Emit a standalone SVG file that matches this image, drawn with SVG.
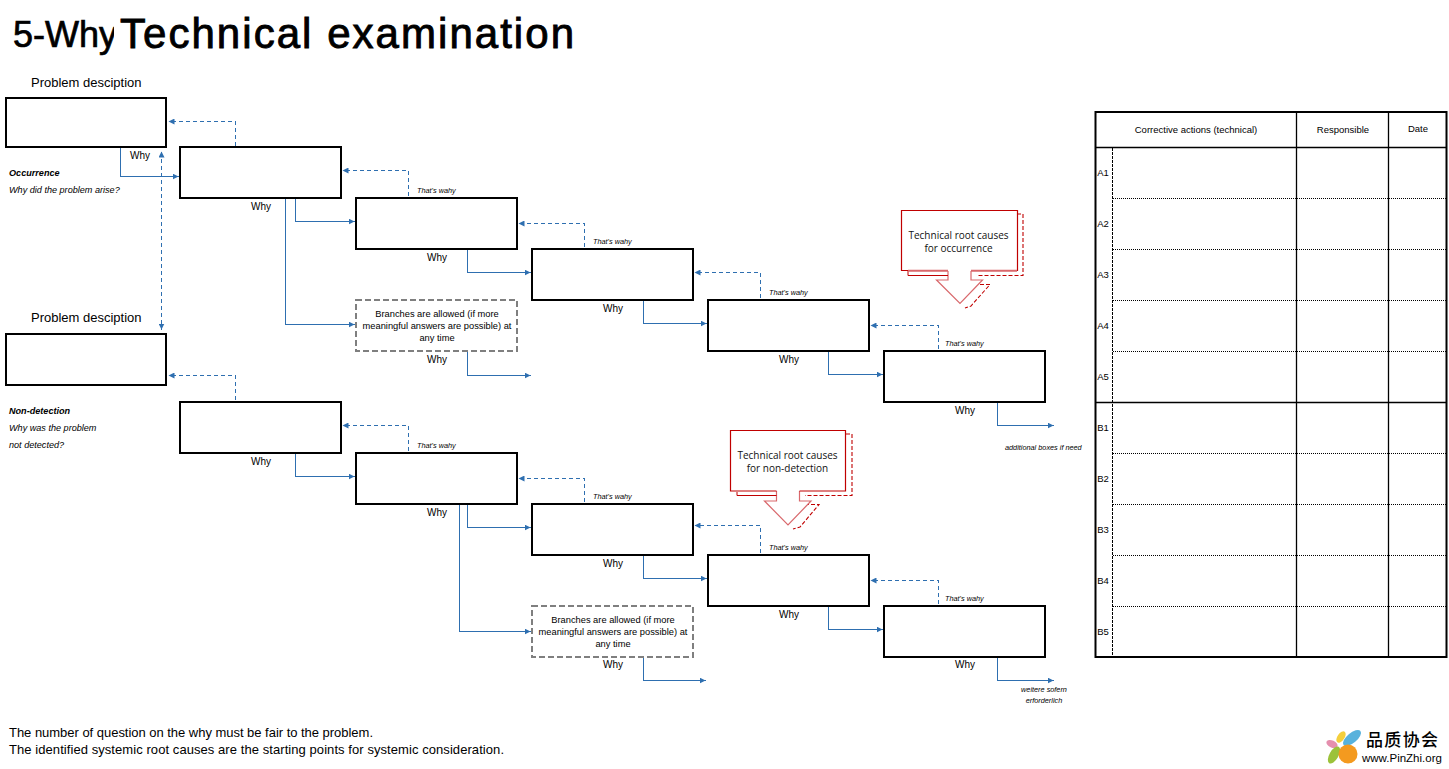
<svg xmlns="http://www.w3.org/2000/svg" width="1449" height="769" viewBox="0 0 1449 769">
<style>
text{font-family:"Liberation Sans",Arial,sans-serif;fill:#000}
.box{fill:#fff;stroke:#000;stroke-width:2}
.dbox{fill:#fff;stroke:#7f7f7f;stroke-width:2;stroke-dasharray:6 3}
.s{fill:none;stroke:#2e6fb0;stroke-width:1;shape-rendering:crispEdges;marker-end:url(#a)}
.d{fill:none;stroke:#2e6fb0;stroke-width:1;stroke-dasharray:4 3;shape-rendering:crispEdges;marker-end:url(#a)}
.w{font-size:10px;text-anchor:middle}
.t{font-size:7.300px;font-style:italic}
.m{font-size:9.300px;text-anchor:middle}
.i{font-size:9.100px;font-style:italic}
.h{font-size:9.500px;text-anchor:middle}
.p{font-size:13px}
.r{fill:#fff;stroke:#c00000;stroke-width:1.2}
.rp{fill:#fff;stroke:#d9686c;stroke-width:1.2}
.rd{fill:none;stroke:#c00000;stroke-width:1.1;stroke-dasharray:4 2}
.rt{font-family:"Open Sans","Noto Sans",sans-serif;font-size:10px;text-anchor:middle;fill:#111}
.dot{stroke:#000;stroke-width:1;stroke-dasharray:1 1;fill:none}
.thick{stroke:#000;stroke-width:1.3;fill:none}
</style>
<defs>
<marker id="a" markerWidth="7" markerHeight="6" refX="6" refY="3" orient="auto" markerUnits="userSpaceOnUse"><path d="M0 0L6 3L0 6z" fill="#2e6fb0"/></marker>
<marker id="b" markerWidth="7" markerHeight="6" refX="1" refY="3" orient="auto" markerUnits="userSpaceOnUse"><path d="M7 0L1 3L7 6z" fill="#2e6fb0"/></marker>
<clipPath id="c"><rect x="0" y="0" width="114" height="60"/></clipPath>
</defs>
<rect width="1449" height="769" fill="#fff"/>
<g id="title">
<text x="13" y="47" font-size="36" stroke="#000" stroke-width=".7" clip-path="url(#c)">5-Why</text>
<text x="120" y="48" font-size="42" stroke="#000" stroke-width=".9" textLength="454">Technical examination</text>
</g>
<g id="connectors" transform="translate(-.5 -.5)">
<path class="s" d="M121 148V177H179"/>
<path class="d" style="marker-start:url(#b)" d="M162 152V330"/>
<path class="d" d="M236 146V122H169"/>
<path class="d" d="M409 196V171H343"/>
<path class="d" d="M585 247V224H519"/>
<path class="d" d="M761 298V273H695"/>
<path class="d" d="M939 349V326H871"/>
<path class="s" d="M296 199V222H355"/>
<path class="s" d="M286 199V325H355"/>
<path class="s" d="M468 250V273H531"/>
<path class="s" d="M644 301V324H707"/>
<path class="s" d="M829 352V375H883"/>
<path class="s" d="M998 403V426H1054"/>
<path class="s" d="M468 352V376H531"/>
<path class="d" d="M236 400V376H169"/>
<path class="d" d="M409 451V426H343"/>
<path class="d" d="M585 502V479H519"/>
<path class="d" d="M761 553V526H695"/>
<path class="d" d="M939 604V581H871"/>
<path class="s" d="M296 454V477H355"/>
<path class="s" d="M468 505V528H531"/>
<path class="s" d="M460 505V632H531"/>
<path class="s" d="M644 556V579H707"/>
<path class="s" d="M829 607V630H883"/>
<path class="s" d="M998 658V681H1054"/>
<path class="s" d="M644 658V681H706"/>
</g>
<g id="n-problem-1"><text class="p" x="31" y="87">Problem desciption</text><rect class="box" x="6" y="98" width="160" height="49"/></g>
<g id="n-a1"><rect class="box" x="180" y="147" width="161" height="51"/></g>
<g id="n-a2"><rect class="box" x="356" y="198" width="161" height="51"/></g>
<g id="n-a3"><rect class="box" x="532" y="249" width="161" height="51"/></g>
<g id="n-a4"><rect class="box" x="708" y="300" width="161" height="51"/></g>
<g id="n-a5"><rect class="box" x="884" y="351" width="161" height="51"/></g>
<g id="n-branch-a"><rect class="dbox" x="356" y="300" width="161" height="51"/><text class="m" x="437" y="317">Branches are allowed (if more</text><text class="m" x="437" y="329">meaningful answers are possible) at</text><text class="m" x="437" y="341">any time</text></g>
<g id="n-problem-2"><text class="p" x="31" y="322">Problem desciption</text><rect class="box" x="6" y="334" width="160" height="51"/></g>
<g id="n-b1"><rect class="box" x="180" y="402" width="161" height="51"/></g>
<g id="n-b2"><rect class="box" x="356" y="453" width="161" height="51"/></g>
<g id="n-b3"><rect class="box" x="532" y="504" width="161" height="51"/></g>
<g id="n-b4"><rect class="box" x="708" y="555" width="161" height="51"/></g>
<g id="n-b5"><rect class="box" x="884" y="606" width="161" height="51"/></g>
<g id="n-branch-b"><rect class="dbox" x="532" y="606" width="161" height="51"/><text class="m" x="613" y="623">Branches are allowed (if more</text><text class="m" x="613" y="635">meaningful answers are possible) at</text><text class="m" x="613" y="647">any time</text></g>
<g id="labels">
<text class="w" x="140" y="159">Why</text><text class="w" x="261" y="210">Why</text><text class="w" x="437" y="261">Why</text><text class="w" x="613" y="312">Why</text><text class="w" x="789" y="363">Why</text><text class="w" x="965" y="414">Why</text><text class="w" x="437" y="363">Why</text>
<text class="w" x="261" y="465">Why</text><text class="w" x="437" y="516">Why</text><text class="w" x="613" y="567">Why</text><text class="w" x="789" y="618">Why</text><text class="w" x="965" y="668">Why</text><text class="w" x="613" y="668">Why</text>
<text class="t" x="417" y="193">That's wahy</text><text class="t" x="593" y="244">That's wahy</text><text class="t" x="769" y="295">That's wahy</text><text class="t" x="945" y="346">That's wahy</text>
<text class="t" x="417" y="448">That's wahy</text><text class="t" x="593" y="499">That's wahy</text><text class="t" x="769" y="550">That's wahy</text><text class="t" x="945" y="601">That's wahy</text>
<text class="t" x="1005" y="450">additional boxes if need</text>
<text class="t" x="1044" y="692" text-anchor="middle">weitere sofern</text><text class="t" x="1044" y="703" text-anchor="middle">erforderlich</text>
<text class="i" x="9" y="176" font-weight="bold">Occurrence</text><text class="i" x="9" y="193">Why did the problem arise?</text>
<text class="i" x="9" y="414" font-weight="bold">Non-detection</text><text class="i" x="9" y="431">Why was the problem</text><text class="i" x="9" y="448">not detected?</text>
<text x="9" y="737" font-size="13" textLength="364">The number of question on the why must be fair to the problem.</text>
<text x="9" y="754" font-size="13" textLength="495">The identified systemic root causes are the starting points for systemic consideration.</text>
</g>
<g id="n-root-occurrence">
<path class="rd" d="M1017 214H1023V275.500H977M908 275.500H948M980 284.500H990L971 306L965 308"/>
<path class="rp" d="M948 271V280H936.500L960 303.500L982.500 280H971V271"/>
<path class="r" d="M948 270.500H901.500V210.500H1017.500V270.500H971"/>
<path d="M908 271V275.500H948" stroke="#c00000" fill="none" stroke-width="1"/>
<path d="M948 270.700H908M971 270.700H1017" stroke="#d9686c" fill="none" stroke-width="2"/>
<text class="rt" x="958.500" y="238.500">Technical root causes</text><text class="rt" x="958.500" y="251.500">for occurrence</text>
</g>
<g id="n-root-detection">
<path class="rd" d="M846 434H852V495.500H805M737 495.500H777M805 504.500H819L800 527L793 529"/>
<path class="rp" d="M776.500 491V501H764.500L788 525L811 501H799.500V491"/>
<path class="r" d="M776.500 491H730.500V430.500H845.500V491H799.500"/>
<path d="M737 492V495.500H776.500" stroke="#c00000" fill="none" stroke-width="1"/>
<text class="rt" x="787.500" y="458.500">Technical root causes</text><text class="rt" x="787.500" y="471.500">for non-detection</text>
</g>
<g id="table">
<rect x="1095.500" y="112" width="351" height="545" fill="#fff" stroke="#000" stroke-width="2"/>
<path class="thick" d="M1096 147.500H1446M1296.500 112V657M1388.500 112V657M1096 402.500H1446"/>
<path d="M1112.500 148V657" stroke="#000" stroke-dasharray="3 1" fill="none"/>
<path class="dot" d="M1113 198.500H1446M1113 249.500H1446M1113 300.500H1446M1113 351.500H1446M1113 453.500H1446M1113 504.500H1446M1113 555.500H1446M1113 606.500H1446"/>
<text class="h" x="1196" y="133">Corrective actions (technical)</text><text class="h" x="1343" y="133">Responsible</text><text class="h" x="1418" y="132">Date</text>
<text class="h" x="1103" y="176">A1</text><text class="h" x="1103" y="227">A2</text><text class="h" x="1103" y="278">A3</text><text class="h" x="1103" y="329">A4</text><text class="h" x="1103" y="380">A5</text>
<text class="h" x="1103" y="431">B1</text><text class="h" x="1103" y="482">B2</text><text class="h" x="1103" y="533">B3</text><text class="h" x="1103" y="584">B4</text><text class="h" x="1103" y="635">B5</text>
</g>
<g id="logo">
<ellipse cx="1352" cy="738" rx="11" ry="5" transform="rotate(-40 1352 738)" fill="#58b2dc"/>
<ellipse cx="1341" cy="737" rx="6.500" ry="3.500" transform="rotate(-55 1341 737)" fill="#f4cf3c"/>
<ellipse cx="1332" cy="744" rx="6" ry="3.500" transform="rotate(25 1332 744)" fill="#e58fae"/>
<ellipse cx="1334" cy="755" rx="9.500" ry="4.500" transform="rotate(-60 1334 755)" fill="#9cc23a"/>
<circle cx="1348" cy="754" r="9.500" fill="#f49a1f"/>
<text x="1366" y="746" font-size="17" textLength="72" style="font-family:'Noto Sans CJK SC',sans-serif" font-weight="500">品质协会</text>
<text x="1362" y="762" font-size="11.500">www.PinZhi.org</text>
</g>
</svg>
